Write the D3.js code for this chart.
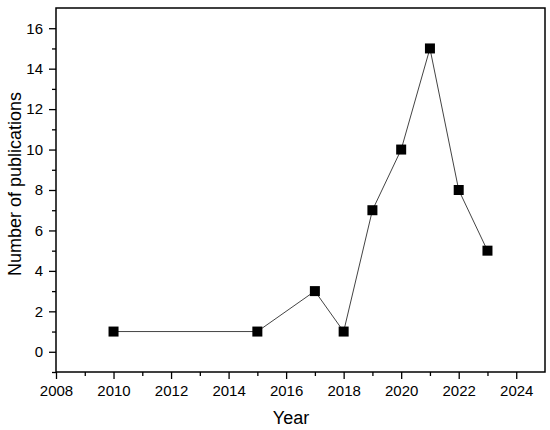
<!DOCTYPE html>
<meta charset="utf-8">
<style>
body { margin: 0; background: #fff; }
text { font-family: Arial, "Liberation Sans", sans-serif; fill: #000; }
.axis path { display: none; }
.axis line { stroke: #000; stroke-width: 1.3px; }
.axis text { font-size: 15px; }
</style>
<svg width="550" height="430"></svg>
<script src="https://cdn.jsdelivr.net/npm/d3@7"></script>
<script>

var years = [2010, 2015, 2017, 2018, 2019, 2020, 2021, 2022, 2023];
var counts = [1, 1, 3, 1, 7, 10, 15, 8, 5];
var xTicks = [2008, 2010, 2012, 2014, 2016, 2018, 2020, 2022, 2024];
var yTicks = [0, 2, 4, 6, 8, 10, 12, 14, 16];

var svg = d3.select("svg");
var plotL = 56, plotR = 545, plotT = 8, plotB = 372;

var x = d3.scaleLinear().domain([2008, 2025]).range([plotL, plotR]);
var y = d3.scaleLinear().domain([-1, 17]).range([plotB, plotT]);

var data = years.map(function(d, i) { return {year: d, n: counts[i]}; });

// minor ticks
var xMinor = d3.range(2009, 2025, 2);
var yMinor = d3.range(-1, 17, 2);

svg.append("g")
    .attr("class", "axis")
    .attr("transform", "translate(0," + plotB + ")")
    .call(d3.axisBottom(x).tickValues(xMinor).tickSize(4).tickFormat(""));
svg.append("g")
    .attr("class", "axis")
    .attr("transform", "translate(0," + plotB + ")")
    .call(d3.axisBottom(x).tickValues(xTicks).tickSize(7).tickPadding(6).tickFormat(d3.format("d")));

svg.append("g")
    .attr("class", "axis")
    .attr("transform", "translate(" + plotL + ",0)")
    .call(d3.axisLeft(y).tickValues(yMinor).tickSize(4).tickFormat(""));
svg.append("g")
    .attr("class", "axis")
    .attr("transform", "translate(" + plotL + ",0)")
    .call(d3.axisLeft(y).tickValues(yTicks).tickSize(7).tickPadding(6).tickFormat(d3.format("d")));

// frame
svg.append("rect")
    .attr("x", plotL)
    .attr("y", plotT)
    .attr("width", plotR - plotL)
    .attr("height", plotB - plotT)
    .attr("fill", "none")
    .attr("stroke", "#000")
    .attr("stroke-width", 1.5);

var line = d3.line()
    .x(function(d) { return x(d.year); })
    .y(function(d) { return y(d.n); });

svg.append("path")
    .datum(data)
    .attr("d", line)
    .attr("fill", "none")
    .attr("stroke", "#444")
    .attr("stroke-width", 1);

svg.selectAll(".pt")
    .data(data)
    .enter().append("rect")
    .attr("class", "pt")
    .attr("x", function(d) { return x(d.year) - 5; })
    .attr("y", function(d) { return y(d.n) - 5; })
    .attr("width", 10)
    .attr("height", 10)
    .attr("fill", "#000");

svg.append("text")
    .attr("x", 291)
    .attr("y", 424)
    .attr("text-anchor", "middle")
    .style("font-size", "18px")
    .text("Year");

svg.append("text")
    .attr("transform", "translate(21,184) rotate(-90)")
    .attr("text-anchor", "middle")
    .style("font-size", "18px")
    .text("Number of publications");

</script>
